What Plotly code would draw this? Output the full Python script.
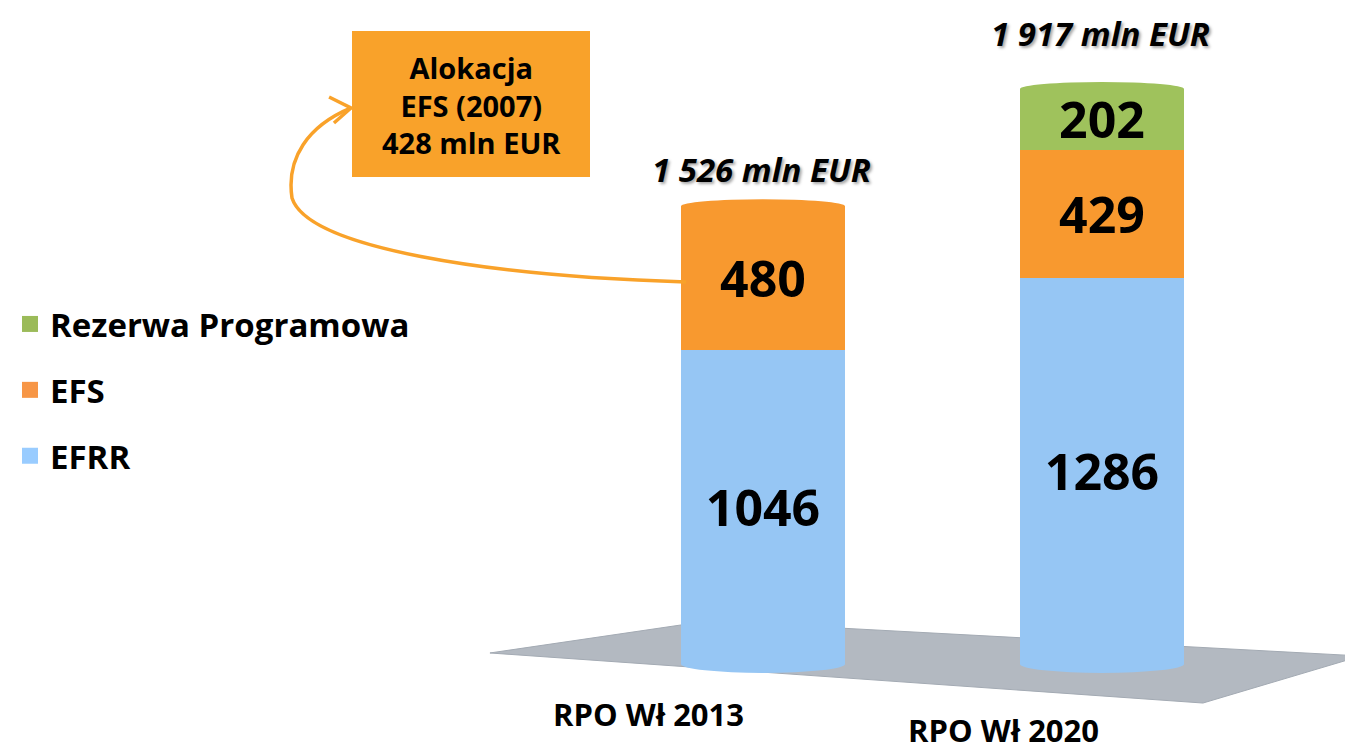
import plotly.graph_objects as go

# ---------------- data ----------------
categories = ["RPO Wł 2013", "RPO Wł 2020"]
series_names = ["EFRR", "EFS", "Rezerwa Programowa"]
efrr = [1046, 1286]
efs = [480, 429]
rezerwa = [None, 202]
callout_lines = ["Alokacja", "EFS (2007)", "428 mln EUR"]

# ---------------- styling ----------------
W, H = 1353, 754
FONT = "Open Sans"
colors = {"EFRR": "#96C6F4", "EFS": "#F8992F", "Rezerwa Programowa": "#9FC25C"}
legend_colors = {"EFRR": "#99CCFF", "EFS": "#F79646", "Rezerwa Programowa": "#9BBB59"}
legend_rank = {"Rezerwa Programowa": 1, "EFS": 2, "EFRR": 3}
ORANGE = "#F9A22A"

base_px, scale_px = 656, 0.300        # baseline pixel row and px per unit
ymin = -(H - base_px) / scale_px
ymax = ymin + H / scale_px
x_center_px = [755, 1094]
px_per_cat = x_center_px[1] - x_center_px[0]
xmin = -x_center_px[0] / px_per_cat
xmax = xmin + W / px_per_cat
bar_width = 164 / px_per_cat

def PX(x):
    return x / W

def PY(y):
    return 1 - y / H

fig = go.Figure()
series_values = [efrr, efs, rezerwa]
for name, vals in zip(series_names, series_values):
    fig.add_trace(go.Bar(
        x=categories, y=vals, name=name,
        width=bar_width,
        marker=dict(color=colors[name], line=dict(width=0)),
        texttemplate="%{y}", textposition="inside",
        insidetextanchor="middle", constraintext="none",
        textfont=dict(family=FONT, size=50, color="black", weight=700),
        showlegend=False,
    ))

# legend entries (square markers)
for name in series_names:
    fig.add_trace(go.Scatter(
        x=[None], y=[None], mode="markers", name=name,
        marker=dict(symbol="square", size=24, color=legend_colors[name]),
        legendgroup=name, legendrank=legend_rank[name], showlegend=True,
    ))

totals = [sum(v for v in col if v is not None) for col in zip(efrr, efs, rezerwa)]
tops_color = []
for i in range(len(categories)):
    top = colors["Rezerwa Programowa"] if rezerwa[i] else colors["EFS"]
    tops_color.append(top)

shapes = []
# floor
floor_pts = [(482, 645), (700, 613), (1353, 648), (1195, 695)]
path = "M " + " L ".join(f"{PX(x):.4f},{PY(y):.4f}" for x, y in floor_pts) + " Z"
shapes.append(dict(type="path", xref="paper", yref="paper", path=path,
                   fillcolor="#B3B9C1", line=dict(color="#A3AAB3", width=1),
                   layer="below"))
# cylinder caps (computed from data)
cap_top = 7 / scale_px
cap_bot = 9 / scale_px
for i, t in enumerate(totals):
    shapes.append(dict(type="circle", xref="x", yref="y",
                       x0=i - bar_width / 2, x1=i + bar_width / 2,
                       y0=t - cap_top, y1=t + cap_top,
                       fillcolor=tops_color[i], line=dict(width=0), layer="below"))
    shapes.append(dict(type="circle", xref="x", yref="y",
                       x0=i - bar_width / 2, x1=i + bar_width / 2,
                       y0=-cap_bot, y1=cap_bot,
                       fillcolor=colors["EFRR"], line=dict(width=0), layer="below"))

# callout box
shapes.append(dict(type="rect", xref="paper", yref="paper",
                   x0=PX(344), x1=PX(582), y0=PY(169), y1=PY(23),
                   fillcolor=ORANGE, line=dict(width=0)))
# curved arrow
arrow = (f"M {PX(678):.4f},{PY(274):.4f} "
         f"C {PX(480):.4f},{PY(268):.4f} {PX(300):.4f},{PY(240):.4f} {PX(284):.4f},{PY(190):.4f} "
         f"C {PX(278):.4f},{PY(150):.4f} {PX(300):.4f},{PY(118):.4f} {PX(343):.4f},{PY(100):.4f}")
shapes.append(dict(type="path", xref="paper", yref="paper", path=arrow,
                   line=dict(color=ORANGE, width=3.5)))
head = (f"M {PX(321):.4f},{PY(89):.4f} L {PX(343):.4f},{PY(100):.4f} "
        f"L {PX(326):.4f},{PY(115):.4f}")
shapes.append(dict(type="path", xref="paper", yref="paper", path=head,
                   line=dict(color=ORANGE, width=3.5)))

annotations = []
annotations.append(dict(xref="paper", yref="paper", x=PX(463), y=PY(97),
                        xanchor="center", yanchor="middle",
                        text="<br>".join(callout_lines), showarrow=False,
                        align="center",
                        font=dict(family=FONT, size=29, color="black", weight=700)))
total_shift = [37, 55]
for i, t in enumerate(totals):
    label = f"{t:,}".replace(",", " ") + " mln EUR"
    annotations.append(dict(x=categories[i], y=t, xref="x", yref="y",
                            yanchor="middle", yshift=total_shift[i], xshift=-2,
                            text=f"<i>{label}</i>", showarrow=False,
                            font=dict(family=FONT, size=33, color="black", weight=700,
                                      shadow="2px 2px 3px rgba(0,0,0,0.35)")))
cat_shift = [-115, -99]
cat_y = [706, 722]
for i, c in enumerate(categories):
    annotations.append(dict(x=c, xref="x", yref="paper", y=PY(cat_y[i]),
                            xshift=cat_shift[i], yanchor="middle",
                            text=c, showarrow=False,
                            font=dict(family=FONT, size=31, color="black", weight=700)))

fig.update_layout(
    width=W, height=H,
    margin=dict(l=0, r=0, t=0, b=0),
    barmode="stack",
    plot_bgcolor="white", paper_bgcolor="white",
    xaxis=dict(type="category", range=[xmin, xmax], visible=False, fixedrange=True),
    yaxis=dict(range=[ymin, ymax], visible=False, fixedrange=True),
    showlegend=True,
    legend=dict(x=PX(2), y=PY(288), xanchor="left", yanchor="top",
                traceorder="grouped", tracegroupgap=20,
                itemsizing="trace",
                font=dict(family=FONT, size=33, color="black", weight=700),
                bgcolor="rgba(0,0,0,0)"),
    shapes=shapes,
    annotations=annotations,
)

fig.write_html("out.html")
